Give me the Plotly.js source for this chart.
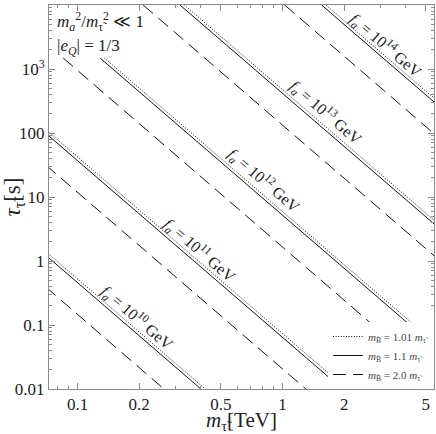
<!DOCTYPE html>
<html>
<head>
<meta charset="utf-8">
<script src="https://cdn.plot.ly/plotly-3.0.1.min.js"></script>
<style>
  body { margin: 0; background: #fff; }
  #chart { width: 436px; height: 434px; }
</style>
</head>
<body>
<div id="chart"></div>
<script>
// axion decay constant exponents, f_a = 10^n GeV
var faExp = [10, 11, 12, 13, 14];

// end points of each line, stau mass in TeV and lifetime in s
var mDot = [[0.07, 0.420], [0.07, 2.06], [0.1353, 5.5], [0.332, 5.5], [1.627, 5.5]];
var tauDot = [[1.41, 0.01], [113.5, 0.01], [1480, 0.0535], [1e4, 4.31], [1e4, 347]];

var mSolid = [[0.07, 0.40], [0.07, 1.96], [0.129, 5.5], [0.316, 5.5], [1.55, 5.5]];
var tauSolid = [[1.23, 0.01], [99, 0.01], [1480, 0.047], [1e4, 3.77], [1e4, 303]];

var mDash = [[0.07, 0.264], [0.07, 1.30], [0.0852, 5.5], [0.209, 5.5], [1.024, 5.5]];
var tauDash = [[0.393, 0.01], [31.6, 0.01], [1480, 0.0149], [1e4, 1.20], [1e4, 96.6]];

var ratioNames = [
  "<i>m</i><sub>B\u0303</sub> = 1.01 <i>m</i><sub>\u03c4\u0303</sub>",
  "<i>m</i><sub>B\u0303</sub> = 1.1 <i>m</i><sub>\u03c4\u0303</sub>",
  "<i>m</i><sub>B\u0303</sub> = 2.0 <i>m</i><sub>\u03c4\u0303</sub>"
];

var xTickVals = [0.1, 0.2, 0.5, 1, 2, 5];
var xTickText = ["0.1", "0.2", "0.5", "1", "2", "5"];
var yTickVals = [0.01, 0.1, 1, 10, 100, 1000, 10000];
var yTickText = ["0.01", "0.1", "1", "10", "100", "10<sup>3</sup>", "10<sup>4</sup>"];

var serif = "'Liberation Serif', 'DejaVu Serif', serif";

var sets = [
  {m: mDot, tau: tauDot, dash: "1px,1.6px"},
  {m: mSolid, tau: tauSolid, dash: "solid"},
  {m: mDash, tau: tauDash, dash: "13px,7px"}
];

var traces = [];
sets.forEach(function(s, k) {
  for (var i = 0; i < faExp.length; i++) {
    traces.push({
      x: s.m[i],
      y: s.tau[i],
      mode: "lines",
      type: "scatter",
      name: ratioNames[k],
      legendgroup: "g" + k,
      showlegend: i === 0,
      line: {color: "#111", width: 1, dash: s.dash},
      hoverinfo: "skip"
    });
  }
});

// minor tick positions
var xMinor = [], yMinor = [];
[0.01, 0.1, 1].forEach(function(d) {
  for (var j = 2; j <= 9; j++) xMinor.push(j * d);
});
[0.01, 0.1, 1, 10, 100, 1000].forEach(function(d) {
  for (var j = 2; j <= 9; j++) yMinor.push(j * d);
});

// f_a labels along the lines (log10 coordinates)
var labelX = [-0.705, -0.402, -0.090, 0.212, 0.505];
var labelY = [-0.886, 0.177, 1.270, 2.333, 3.380];

var annotations = faExp.map(function(n, i) {
  return {
    x: labelX[i], y: labelY[i], xref: "x", yref: "y",
    text: "<i>f<sub>a</sub></i> = 10<sup>" + n + "</sup> GeV",
    showarrow: false, textangle: 40.8,
    font: {family: serif, size: 16, color: "#222"}
  };
});
annotations.push({
  x: 0.015, y: 0.995, xref: "paper", yref: "paper", xanchor: "left", yanchor: "top",
  text: "<i>m</i><sub><i>a</i></sub><sup>2</sup>/<i>m</i><sub>\u03c4\u0303</sub><sup>2</sup> \u226a 1",
  showarrow: false, font: {family: serif, size: 17, color: "#222"}
});
annotations.push({
  x: 0.015, y: 0.925, xref: "paper", yref: "paper", xanchor: "left", yanchor: "top",
  text: "|<i>e<sub>Q</sub></i>| = 1/3",
  showarrow: false, font: {family: serif, size: 17, color: "#222"}
});

var axisCommon = {
  type: "log",
  showgrid: false,
  zeroline: false,
  showline: true,
  linecolor: "#8a8a8a",
  linewidth: 1,
  mirror: "allticks",
  ticks: "inside",
  ticklen: 6,
  tickcolor: "#8a8a8a",
  tickmode: "array",
  automargin: false,
  tickfont: {family: serif, size: 17, color: "#222"}
};

var layout = {
  width: 436,
  height: 434,
  margin: {l: 49, r: 2, t: 5, b: 45},
  paper_bgcolor: "#fff",
  plot_bgcolor: "#fff",
  showlegend: true,
  legend: {
    x: 1, y: 0, xanchor: "right", yanchor: "bottom",
    bgcolor: "#fff",
    borderwidth: 0,
    itemwidth: 30,
    tracegroupgap: 0,
    font: {family: serif, size: 11, color: "#444"}
  },
  xaxis: Object.assign({}, axisCommon, {
    range: [Math.log10(0.0726), Math.log10(5.48)],
    tickvals: xTickVals,
    ticktext: xTickText,
    minor: {tickmode: "array", tickvals: xMinor, ticks: "inside", ticklen: 3, tickcolor: "#8a8a8a"},
    title: {text: "<i>m</i><sub>\u03c4\u0303</sub>[TeV]", font: {family: serif, size: 21, color: "#222"}, standoff: 9}
  }),
  yaxis: Object.assign({}, axisCommon, {
    range: [-2, 4],
    tickvals: yTickVals,
    ticktext: yTickText,
    minor: {tickmode: "array", tickvals: yMinor, ticks: "inside", ticklen: 3, tickcolor: "#8a8a8a"},
    title: {text: "<i>\u03c4</i><sub>\u03c4\u0303</sub>[s]", font: {family: serif, size: 23, color: "#222"}, standoff: 2}
  }),
  annotations: annotations
};

Plotly.newPlot("chart", traces, layout, {displayModeBar: false, staticPlot: true});
</script>
</body>
</html>
